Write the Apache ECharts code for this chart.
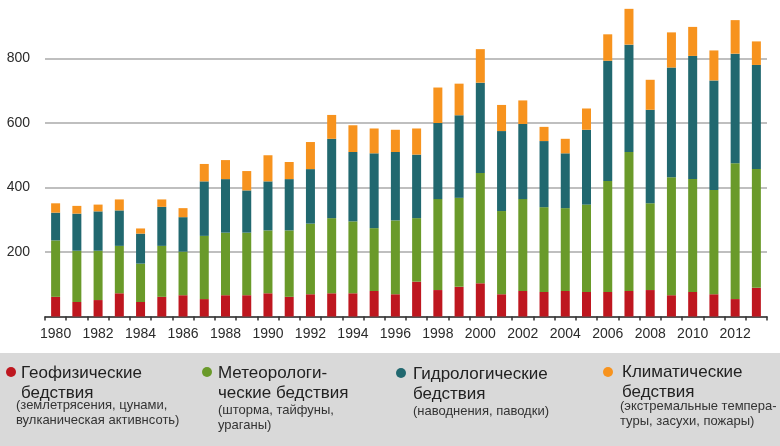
<!DOCTYPE html>
<html><head><meta charset="utf-8">
<script src="https://cdn.jsdelivr.net/npm/echarts@6/dist/echarts.min.js"></script>
<style>html,body{margin:0;padding:0;background:#fff}#c{width:780px;height:446px}</style>
</head><body><div id="c"></div>
<script>
const years = ['1980','1981','1982','1983','1984','1985','1986','1987','1988','1989','1990','1991','1992','1993','1994','1995','1996','1997','1998','1999','2000','2001','2002','2003','2004','2005','2006','2007','2008','2009','2010','2011','2012','2013'];
const geophysical = [61,45,51,72,45,61,66,54,66,66,72,61,69,72,72,79,69,108,82,92,103,69,79,76,79,76,76,79,82,66,76,69,54,89];
const meteorological = [175,159,153,147,119,158,135,196,194,194,195,206,219,233,223,195,229,197,282,276,342,258,285,263,257,271,344,431,269,366,350,323,421,368];
const hydrological = [86,115,122,110,93,121,107,169,166,131,152,159,169,246,215,232,212,197,236,256,280,248,233,205,170,232,373,333,290,340,382,340,340,323];
const climatological = [29,24,21,34,16,23,28,54,59,60,81,53,84,74,83,77,69,81,110,98,104,81,73,44,45,66,82,111,93,109,90,93,104,73];
const seriesNames = ['Геофизические бедствия','Метеорологические бедствия','Гидрологические бедствия','Климатические бедствия'];
const colors = ['#be171f','#6a9a2a','#21686f','#f7931e'];
const legendTitles = ['Геофизические\nбедствия','Метеорологи-\nческие бедствия','Гидрологические\nбедствия','Климатические\nбедствия'];
const legendSubs = ['(землетрясения, цунами,\nвулканическая активнсоть)','(шторма, тайфуны,\nураганы)','(наводнения, паводки)','(экстремальные темпера-\nтуры, засухи, пожары)'];

const chart = echarts.init(document.getElementById('c'), null, {renderer:'canvas'});
const dataSets = [geophysical, meteorological, hydrological, climatological];
const font = 'Liberation Sans, Arial, sans-serif';

const legendPos = [
  {cx:11, cy:372, tx:21, ty:363, sx:16, sy:398},
  {cx:207, cy:372, tx:218, ty:363, sx:218, sy:403},
  {cx:401, cy:373, tx:413, ty:364, sx:413, sy:404},
  {cx:608, cy:372, tx:622, ty:362, sx:620, sy:399}
];
const graphics = [{type:'rect', shape:{x:0,y:353,width:780,height:93}, style:{fill:'#d9d9d9'}, silent:true, z:-1}];
legendPos.forEach((p,i)=>{
  graphics.push({type:'circle', shape:{cx:p.cx, cy:p.cy, r:5}, style:{fill:colors[i]}});
  graphics.push({type:'text', x:p.tx, y:p.ty, style:{text:legendTitles[i], font:'17px '+font, fill:'#222', lineHeight:20}});
  graphics.push({type:'text', x:p.sx, y:p.sy, style:{text:legendSubs[i], font:'13px '+font, fill:'#333', lineHeight:15}});
});

chart.setOption({
  animation:false,
  grid:{left:45, right:13, top:-6, bottom:129.5, containLabel:false, outerBoundsMode:'none'},
  xAxis:{
    type:'category', data:years, boundaryGap:true,
    axisLine:{show:true, lineStyle:{color:'#333', width:1.5}},
    axisTick:{show:true, alignWithLabel:false, interval:0, length:4, lineStyle:{color:'#333', width:1.5}},
    axisLabel:{interval:1, color:'#2b2b2b', fontSize:14, fontFamily:font, margin:11}
  },
  yAxis:{
    type:'value', min:0, max:1000, interval:200,
    axisLine:{show:false}, axisTick:{show:false},
    axisLabel:{color:'#2b2b2b', fontSize:14, fontFamily:font, margin:15, showMinLabel:false, formatter:(v)=>String(v)},
    splitLine:{lineStyle:{color:'#aaaaaa', width:1.5}}
  },
  series: dataSets.map((d,i)=>({
    name:seriesNames[i], type:'bar', stack:'total', data:d, barWidth:9,
    itemStyle:{color:colors[i]}
  })),
  graphic:graphics
});
</script></body></html>
